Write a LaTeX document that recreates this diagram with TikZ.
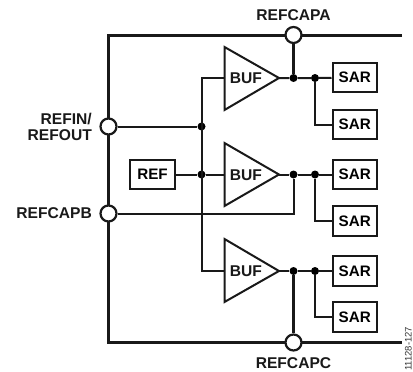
\documentclass[tikz,border=0pt]{standalone}
\usepackage{fontspec}
\setmainfont{Liberation Sans}
\tikzset{
  x=1pt,y=-1pt,
  heavy/.style={line width=3pt,black!90},
  thin line/.style={line width=2pt,black!90},
  pin/.style={circle,draw=black!90,line width=2.2pt,fill=white,minimum size=16pt,inner sep=0pt},
  dotn/.style={circle,fill=black,minimum size=8pt,inner sep=0pt},
  sarbox/.style={draw=black!90,line width=2pt,minimum width=44.5pt,minimum height=29.5pt,inner sep=0pt,font=\fontsize{15.2}{15}\bfseries,fill=white},
  buf/.style={draw=black!90,line width=2pt,fill=white,line join=miter},
  lab/.style={font=\fontsize{15.6}{16.5}\bfseries,inner sep=0pt,text=black!90},
}
\begin{document}
\begin{tikzpicture}
\useasboundingbox (0,0) rectangle (413,372);
\coordinate (TL) at (108.5,35);
\coordinate (TR) at (402,35);
\coordinate (BL) at (108.5,342.5);
\coordinate (BR) at (402,342.5);
\draw[heavy,line join=miter] (TR) -- (TL) -- (BL) -- (BR);
\node[sarbox] (s1) at (354.75,77.5) {SAR};
\node[sarbox] (s2) at (354.75,124.5) {SAR};
\node[sarbox] (s3) at (354.75,174.5) {SAR};
\node[sarbox] (s4) at (354.75,221) {SAR};
\node[sarbox] (s5) at (354.75,271) {SAR};
\node[sarbox] (s6) at (354.75,317) {SAR};
\node[sarbox,minimum width=45pt] (ref) at (152.5,174.5) {REF};
\coordinate (b1in) at (224.5,78);
\coordinate (b2in) at (224.5,174.5);
\coordinate (b3in) at (224.5,271);
\coordinate (b1out) at (279,78);
\coordinate (b2out) at (279,174.5);
\coordinate (b3out) at (279,271);
\coordinate (bustop) at (201.5,78);
\coordinate (busbot) at (201.5,271);
\coordinate (capbc) at (293.5,213.5);
\coordinate (j1) at (315,124.5);
\coordinate (j2) at (315,221);
\coordinate (j3) at (315,317);
\node[pin] (pa) at (293.5,35) {};
\node[pin] (pc) at (293.5,342.5) {};
\node[pin] (pi) at (108.5,126.5) {};
\node[pin] (pb) at (108.5,213.5) {};
\node[dotn] (d1) at (201.5,126.5) {};
\node[dotn] (d2) at (201.5,174.5) {};
\node[dotn] (a1) at (293.5,78) {};
\node[dotn] (a2) at (315,78) {};
\node[dotn] (c1) at (293.5,174.5) {};
\node[dotn] (c2) at (315,174.5) {};
\node[dotn] (e1) at (293.5,271) {};
\node[dotn] (e2) at (315,271) {};
\draw[thin line,line join=miter] (b1in) -- (bustop) -- (busbot) -- (b3in);
\draw[thin line] (pi) -- (d1);
\draw[thin line] (ref) -- (d2) -- (b2in);
\draw[thin line,line join=miter] (pb) -- (capbc) -- (c1);
\draw[thin line] (b1out) -- (a1) -- (a2) -- (s1);
\draw[thin line] (b2out) -- (c1) -- (c2) -- (s3);
\draw[thin line] (b3out) -- (e1) -- (e2) -- (s5);
\draw[thin line,line join=miter] (a2) -- (j1) -- (s2);
\draw[thin line,line join=miter] (c2) -- (j2) -- (s4);
\draw[thin line,line join=miter] (e2) -- (j3) -- (s6);
\draw[thin line,line width=2.2pt] (pa) -- (a1);
\draw[thin line,line width=2.2pt] (pc) -- (e1);
\draw[buf] (224.5,47) -- (279,78) -- (224.5,110) -- cycle;
\draw[buf] (224.5,143) -- (279,174.5) -- (224.5,206) -- cycle;
\draw[buf] (224.5,239) -- (279,271) -- (224.5,302) -- cycle;
\node[lab] (bt1) at (246,78.5) {BUF};
\node[lab] (bt2) at (246,175) {BUF};
\node[lab] (bt3) at (246,271.5) {BUF};
\node[lab] (la) at (293.5,15.5) {REFCAPA};
\node[lab] (lc) at (293.5,363) {REFCAPC};
\node[lab,anchor=east,align=right] (li) at (92,127) {REFIN/\\REFOUT};
\node[lab,anchor=east] (lb) at (92,213.5) {REFCAPB};
\node[font=\fontsize{9.5}{10}\selectfont,rotate=90,anchor=south west,inner sep=0pt,text=black!80] (fig) at (412,371) {11128-127};
\end{tikzpicture}
\end{document}
